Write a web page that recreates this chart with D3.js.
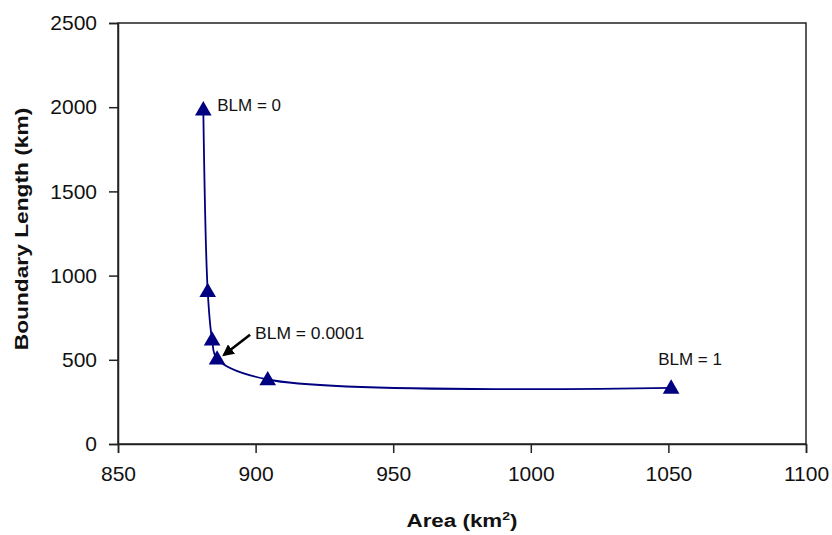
<!DOCTYPE html>
<html>
<head>
<meta charset="utf-8">
<script src="https://cdn.jsdelivr.net/npm/d3@7"></script>
<style>
  body { margin: 0; background: #fff; }
  text { font-family: "Liberation Sans", Arial, sans-serif; }
</style>
</head>
<body>
<div id="chart"></div>
<script>
// values
var areaKm2 = [881, 882.6, 884.2, 886, 904.4, 1051];
var boundaryKm = [1985, 907, 619, 506, 383, 333];
var xTicks = [850, 900, 950, 1000, 1050, 1100];
var yTicks = [0, 500, 1000, 1500, 2000, 2500];
var blmLabels = [
  {i: 0, text: "BLM = 0"},
  {i: 3, text: "BLM = 0.0001"},
  {i: 5, text: "BLM = 1"}
];

var width = 832, height = 535;
var margin = {top: 23, right: 26, bottom: 91, left: 118};
var navy = "#000080";

var svg = d3.select("#chart").append("svg")
    .attr("width", width)
    .attr("height", height);

var g = svg.append("g")
    .attr("transform", "translate(" + margin.left + "," + margin.top + ")");

var w = width - margin.left - margin.right,
    h = height - margin.top - margin.bottom;

var x = d3.scaleLinear().domain([850, 1100]).range([0, w]);
var y = d3.scaleLinear().domain([0, 2500]).range([h, 0]);

// plot frame
g.append("rect")
    .attr("width", w).attr("height", h)
    .attr("fill", "none")
    .attr("stroke", "#222").attr("stroke-width", 1.5);

var xAxis = g.append("g")
    .attr("transform", "translate(0," + h + ")")
    .call(d3.axisBottom(x).tickValues(xTicks).tickSize(9).tickPadding(8).tickFormat(d3.format("d")));
var yAxis = g.append("g")
    .call(d3.axisLeft(y).tickValues(yTicks).tickSize(9).tickPadding(12).tickFormat(d3.format("d")));

[xAxis, yAxis].forEach(function (a) {
  a.select(".domain").attr("stroke", "#222").attr("stroke-width", 1.5);
  a.selectAll(".tick line").attr("stroke", "#222").attr("stroke-width", 1.5);
  a.selectAll(".tick text")
      .attr("fill", "#111")
      .style("font-size", "21px")
      .style("font-family", "'Liberation Sans', Arial, sans-serif");
});
xAxis.selectAll(".tick text").attr("dy", "0.95em");

var pts = areaKm2.map(function (a, i) { return [a, boundaryKm[i]]; });

// smoothed line like the spreadsheet's
var line = d3.line()
    .x(function (d) { return x(d[0]); })
    .y(function (d) { return y(d[1]); })
    .curve(d3.curveCatmullRom.alpha(0.5));

g.append("path")
    .datum(pts)
    .attr("d", line)
    .attr("fill", "none")
    .attr("stroke", navy)
    .attr("stroke-width", 1.8);

var tri = d3.symbol().type(d3.symbolTriangle).size(120);
g.selectAll("path.marker")
    .data(pts)
    .enter().append("path")
    .attr("class", "marker")
    .attr("d", tri)
    .attr("transform", function (d) { return "translate(" + x(d[0]) + "," + (y(d[1]) + 1) + ")"; })
    .attr("fill", navy);

// point labels
var labelOffsets = {0: [14, 1], 3: [38, -20], 5: [-13, -23]};
g.selectAll("text.blm")
    .data(blmLabels)
    .enter().append("text")
    .attr("class", "blm")
    .attr("x", function (d) { return x(areaKm2[d.i]) + labelOffsets[d.i][0]; })
    .attr("y", function (d) { return y(boundaryKm[d.i]) + labelOffsets[d.i][1]; })
    .style("font-size", "16px")
    .attr("fill", "#111")
    .attr("textLength", function (d) { return d.text.length * 9.1; })
    .attr("lengthAdjust", "spacingAndGlyphs")
    .text(function (d) { return d.text; });

// arrow to BLM = 0.0001
svg.append("defs").append("marker")
    .attr("id", "head")
    .attr("viewBox", "0 0 10 10")
    .attr("refX", 8).attr("refY", 5)
    .attr("markerWidth", 4.5).attr("markerHeight", 4.5)
    .attr("orient", "auto")
    .append("path").attr("d", "M0,0L10,5L0,10z").attr("fill", "#000");

var p4 = [x(areaKm2[3]), y(boundaryKm[3])];
g.append("line")
    .attr("x1", p4[0] + 33).attr("y1", p4[1] - 24)
    .attr("x2", p4[0] + 7).attr("y2", p4[1] - 4)
    .attr("stroke", "#000").attr("stroke-width", 2.6)
    .attr("marker-end", "url(#head)");

// axis titles
svg.append("text")
    .attr("transform", "translate(" + (margin.left + w / 2) + ",527) scale(1.28,1)")
    .attr("text-anchor", "middle")
    .style("font-size", "17.5px").style("font-weight", "bold")
    .attr("fill", "#111")
    .html("Area (km<tspan dy='-7' font-size='11px'>2</tspan><tspan dy='7'>)</tspan>");

svg.append("text")
    .attr("transform", "translate(28,229) rotate(-90) scale(1.3,1)")
    .attr("text-anchor", "middle")
    .style("font-size", "17.5px").style("font-weight", "bold")
    .attr("fill", "#111")
    .text("Boundary Length (km)");
</script>
</body>
</html>
